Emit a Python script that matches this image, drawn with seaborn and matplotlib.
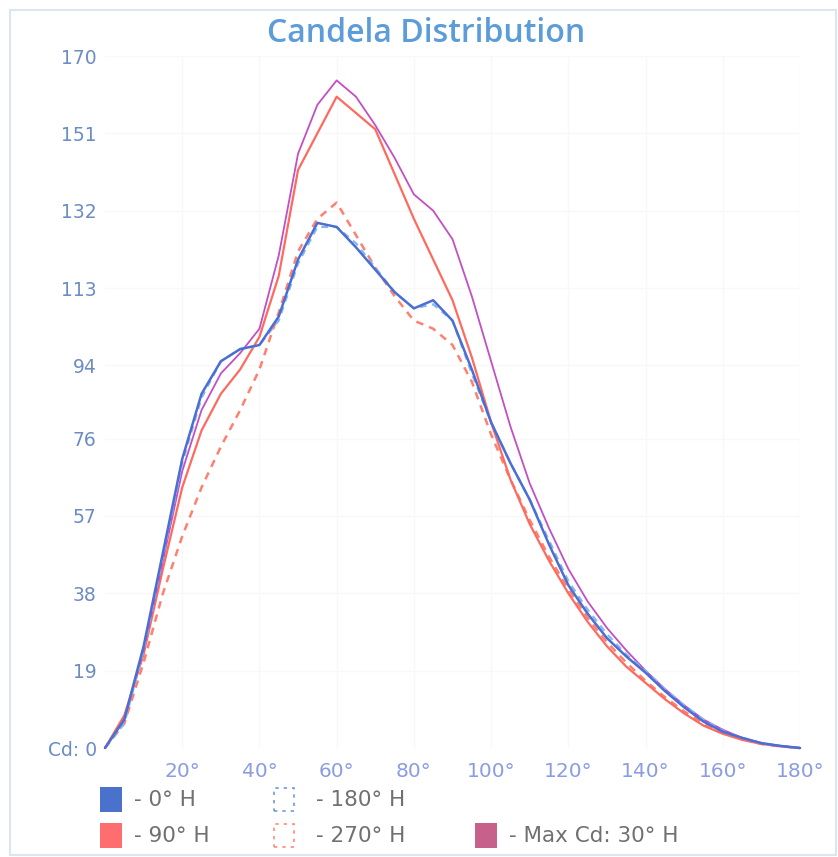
import matplotlib.pyplot as plt
import matplotlib.patches as mpatches
import numpy as np
import seaborn as sns

# Vertical angle (deg) and candela values
angles = list(range(0, 181, 5))

cd_0h = [0, 7, 25, 48, 71, 87, 95, 98, 99, 106, 120, 129, 128, 123, 117.5, 112, 108, 110, 105,
         93, 80, 70, 61, 50, 40, 33, 27, 22.5, 18.5, 14, 10, 6.5, 4, 2.5, 1.2, 0.5, 0]
cd_180h = [0, 6, 24, 47, 70, 86, 95, 98, 99, 105, 119, 128, 128, 124, 118, 112, 108, 109, 105,
           92, 80, 70, 61, 51, 41, 34, 28, 23, 19, 14.5, 10.5, 7, 4.2, 2.5, 1.2, 0.5, 0]
cd_90h = [0, 8, 23, 44, 64, 78, 87, 93, 101, 116, 142, 151, 160, 156, 152, 141, 130, 120, 110,
          96, 80, 66, 55, 46, 38, 31, 25, 20, 16, 12, 8.5, 5.5, 3.5, 2, 1, 0.4, 0]
cd_270h = [0, 6, 21, 38, 52, 64, 74, 83, 93, 107, 122, 130, 134, 126, 118, 111, 105, 103, 99,
           90, 77, 66, 56, 47, 39, 32, 26, 21, 16.5, 12.5, 9, 6, 3.8, 2.2, 1, 0.4, 0]
cd_max30h = [0, 7, 24, 46, 68, 83, 92, 97, 103, 121, 146, 158, 164, 160, 153, 145, 136, 132, 125,
             111, 95, 79, 65, 54, 44, 36, 29.5, 24, 19, 14.5, 10.5, 7, 4.5, 2.5, 1.2, 0.5, 0]

y_ticks = [0, 19, 38, 57, 76, 94, 113, 132, 151, 170]
y_labels = ["Cd: 0"] + [str(v) for v in y_ticks[1:]]
x_ticks = [20, 40, 60, 80, 100, 120, 140, 160, 180]
x_labels = [f"{v}°" for v in x_ticks]

sns.set_theme(style="white")
plt.rcParams['font.family'] = ['DejaVu Sans']

fig = plt.figure(figsize=(8.38, 8.57), dpi=100)
W, H = 838, 857
ax = fig.add_axes([105 / W, 109 / H, 695 / W, 692 / H])

# outer frame
fig.add_artist(mpatches.Rectangle((10 / W, 2 / H), 826 / W, 845 / H, transform=fig.transFigure,
                                  fill=False, edgecolor='#dbe6ee', lw=1.5))

series = [
    (cd_270h, '#ff8070', (3, 2.5), 1.8),
    (cd_90h, '#ff6a5e', None, 1.6),
    (cd_max30h, '#c24fc4', None, 1.3),
    (cd_180h, '#86b8ec', (3, 2.5), 1.6),
    (cd_0h, '#4a6ed4', None, 1.8),
]
for vals, color, dash, lw in series:
    if dash is None:
        sns.lineplot(x=angles, y=vals, ax=ax, color=color, linewidth=lw, clip_on=False)
    else:
        sns.lineplot(x=angles, y=vals, ax=ax, color=color, linewidth=lw, dashes=False,
                     linestyle=(0, dash), clip_on=False)

ax.set_xlim(0, 180)
ax.set_ylim(0, 170)
ax.set_yticks(y_ticks)
ax.set_yticklabels(y_labels, color='#6b8cc4', fontsize=13.5)
ax.set_xticks(x_ticks)
ax.set_xticklabels(x_labels, color='#8c9ce0', fontsize=14.5)
ax.tick_params(axis='y', length=0, pad=6)
ax.tick_params(axis='x', length=0, pad=10)
ax.grid(True, color='#f8f8f8', lw=1)
for s in ax.spines.values():
    s.set_visible(False)

fig.text(426 / W, 1 - 34 / H, "Candela Distribution", ha='center', va='center',
         color='#5c9cd8', fontsize=23, fontweight='semibold', family=['Open Sans', 'DejaVu Sans'])

# legend, drawn by hand in pixel positions
legend_items = [
    ("- 0° H", '#4a72cc', 'solid', 100, 800),
    ("- 180° H", '#6d9be0', 'dashed', 274, 800),
    ("- 90° H", '#ff6e6e', 'solid', 100, 836),
    ("- 270° H", '#ff8a80', 'dashed', 274, 836),
    ("- Max Cd: 30° H", '#c8608c', 'solid', 475, 836),
]
for label, color, kind, x0, yc in legend_items:
    if kind == 'solid':
        rect = mpatches.Rectangle((x0 / W, 1 - (yc + 12) / H), 22 / W, 25 / H,
                                  transform=fig.transFigure, facecolor=color, edgecolor='none')
        tx = x0 + 34
    else:
        rect = mpatches.Rectangle((x0 / W, 1 - (yc + 11) / H), 20 / W, 23 / H,
                                  transform=fig.transFigure, facecolor='none', edgecolor=color,
                                  lw=1.2, linestyle=(0, (2, 3)))
        tx = x0 + 42
    fig.add_artist(rect)
    fig.text(tx / W, 1 - yc / H, label, ha='left', va='center', color='#707070', fontsize=15.5)

plt.savefig('out.png', dpi=100)
